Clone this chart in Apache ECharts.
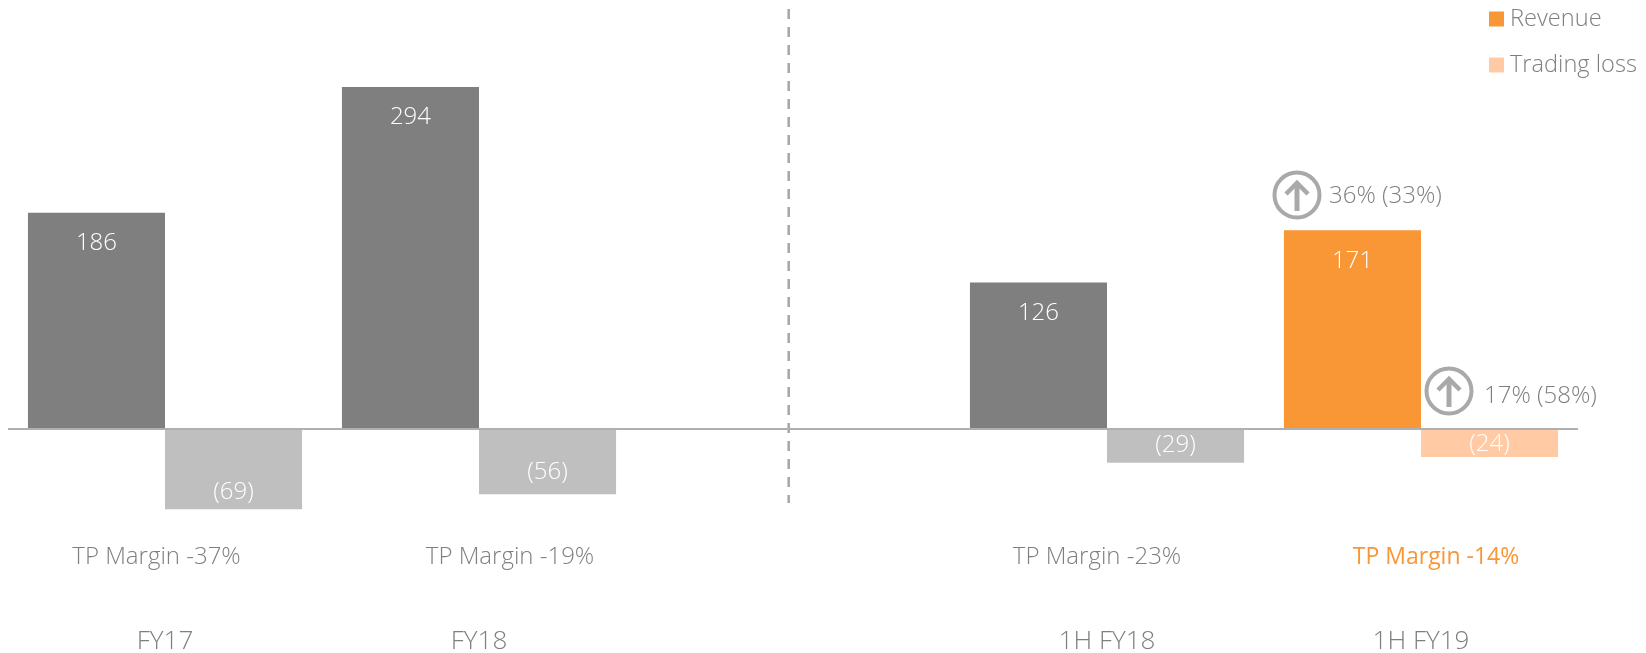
<!DOCTYPE html>
<html><head><meta charset="utf-8">
<script src="https://cdn.jsdelivr.net/npm/echarts@6/dist/echarts.min.js"></script>
<style>html,body{margin:0;padding:0;background:#fff}#c{width:1646px;height:653px}</style>
</head><body><div id="c"></div>
<script>
const categories = ['FY17', 'FY18', '', '1H FY18', '1H FY19'];
const revenue = [186, 294, null, 126, 171];
const tradingLoss = [-69, -56, null, -29, -24];
const margins = ['TP Margin -37%', 'TP Margin -19%', '', 'TP Margin -23%', 'TP Margin -14%'];
const growthNotes = ['36% (33%)', '17% (58%)'];

const FONT = '"Open Sans"';
const SIZE = 24;
const GREY_TEXT = '#7f7f7f';
const ORANGE = '#f99635', LIGHT_ORANGE = '#ffcaa4', DARK = '#7f7f7f', LIGHT = '#bfbfbf';
const highlight = categories.length - 1;
const lossLabelOffset = [2.5, -2.5, 0, 2.5, 7.5];
const marginX = [156.5, 510, 0, 1097, 1436];

function circleArrow(cx, cy) {
  return [
    { type: 'circle', shape: { cx, cy, r: 22.5 }, style: { fill: 'none', stroke: '#a9a9a9', lineWidth: 4 } },
    { type: 'line', shape: { x1: cx, y1: cy - 12, x2: cx, y2: cy + 16 }, style: { stroke: '#a9a9a9', lineWidth: 5 } },
    { type: 'polyline', shape: { points: [[cx - 11, cy - 1], [cx, cy - 12], [cx + 11, cy - 1]] }, style: { fill: 'none', stroke: '#a9a9a9', lineWidth: 4.5 } }
  ];
}
function note(x, y, text, color, weight, align, size) {
  return { type: 'text', x, y, style: { text, fill: color || GREY_TEXT, font: (weight || 300) + ' ' + (size || SIZE) + 'px ' + FONT, textAlign: align || 'left', textVerticalAlign: 'middle' } };
}

const chart = echarts.init(document.getElementById('c'), null, { renderer: 'canvas' });
chart.setOption({
  animation: false,
  backgroundColor: '#fff',
  grid: { left: 8, width: 1570, top: 0, height: 625, outerBoundsMode: 'none' },
  legend: {
    left: 1489, top: 7, padding: 0, orient: 'vertical', icon: 'rect', itemWidth: 15, itemHeight: 15, itemGap: 22,
    selectedMode: false,
    textStyle: { color: GREY_TEXT, fontFamily: FONT, fontWeight: 300, fontSize: 23.6, padding: [0, 0, 0, 1] },
    data: ['Revenue', 'Trading loss']
  },
  xAxis: {
    type: 'category', data: categories,
    axisTick: { show: false },
    axisLine: { show: false, onZero: false },
    axisLabel: { margin: 4, color: GREY_TEXT, fontFamily: FONT, fontWeight: 300, fontSize: 26, interval: 0 }
  },
  yAxis: { type: 'value', min: -168.5, max: 368.9, show: false, splitLine: { show: false } },
  series: [
    {
      name: 'Revenue', type: 'bar', barGap: 0, barCategoryGap: '12.7%',
      itemStyle: { color: ORANGE },
      data: revenue.map((v, i) => ({ value: v, itemStyle: { color: i === highlight ? ORANGE : DARK } })),
      label: { show: true, position: 'insideTop', distance: 18.5, color: '#fff', fontFamily: FONT, fontWeight: 300, fontSize: SIZE },
      markLine: {
        silent: true, symbol: 'none', label: { show: false },
        lineStyle: { color: '#b0b0b0', width: 2, type: 'solid' },
        data: [{ yAxis: 0 }]
      }
    },
    {
      name: 'Trading loss', type: 'bar',
      itemStyle: { color: LIGHT_ORANGE },
      data: tradingLoss.map((v, i) => ({
        value: v,
        itemStyle: { color: i === highlight ? LIGHT_ORANGE : LIGHT },
        label: { offset: [0, lossLabelOffset[i]] }
      })),
      label: {
        show: true, position: 'insideBottom', distance: 8, color: '#fff', fontFamily: FONT, fontWeight: 300, fontSize: SIZE,
        formatter: p => '(' + Math.abs(p.value) + ')'
      }
    }
  ],
  graphic: [
    { type: 'line', z: 5, shape: { x1: 788.7, y1: 9, x2: 788.7, y2: 503 }, style: { stroke: '#a6a6a6', lineWidth: 2.5, lineDash: [10, 8] } },
    ...circleArrow(1297, 195),
    ...circleArrow(1449, 391),
    note(1329, 196, growthNotes[0]),
    note(1484, 396, growthNotes[1]),
    ...margins.map((m, i) => m ? note(marginX[i], 557, m, i === highlight ? ORANGE : GREY_TEXT, i === highlight ? 400 : 300, 'center', i === highlight ? 23 : SIZE) : null).filter(Boolean)
  ]
});
</script></body></html>
